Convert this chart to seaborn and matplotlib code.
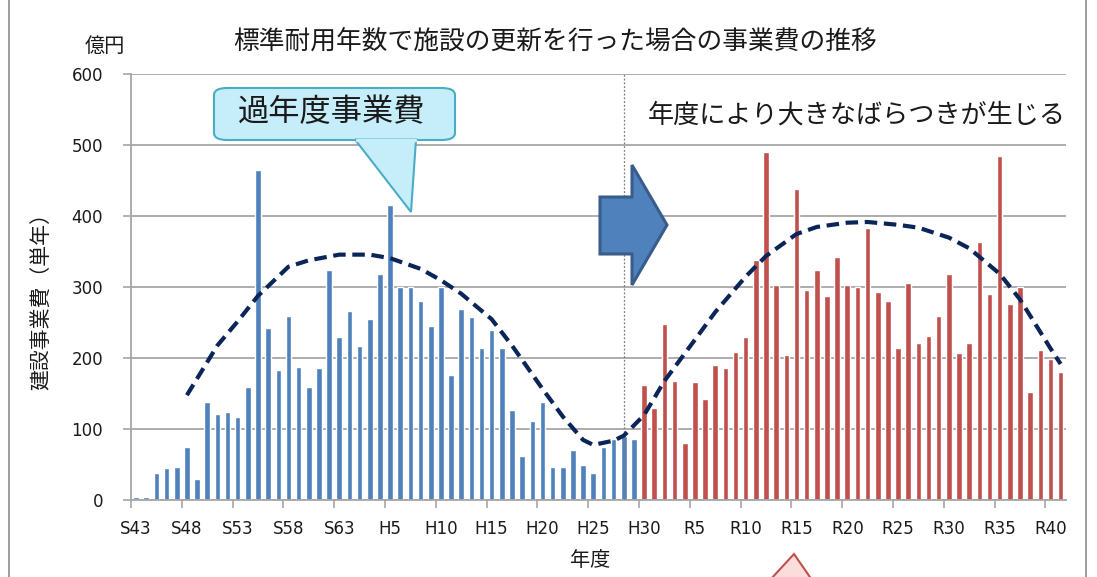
import numpy as np
import pandas as pd
import matplotlib
matplotlib.use("Agg")
import matplotlib.pyplot as plt
import seaborn as sns
from matplotlib.patches import FancyBboxPatch, Polygon
from matplotlib.lines import Line2D

# ---------------- data ----------------
years = ([f"S{y}" for y in range(43, 64)] + [f"H{y}" for y in range(1, 31)]
         + [f"R{y}" for y in range(1, 42)])
past_values = [4, 4, 39, 45, 47, 75, 30, 139, 121, 124, 117, 160, 465, 242, 183,
               260, 188, 160, 186, 324, 230, 267, 218, 255, 319, 416, 301, 301,
               281, 245, 301, 176, 270, 258, 214, 240, 214, 127, 62, 112, 138,
               47, 47, 71, 50, 39, 75, 87, 90, 86]
future_values = [163, 130, 248, 168, 81, 166, 142, 191, 186, 209, 230, 339, 491,
                 303, 204, 439, 296, 324, 288, 342, 303, 300, 383, 293, 281, 214,
                 306, 221, 232, 260, 319, 208, 221, 364, 291, 485, 276, 300, 152,
                 212, 199, 181]
trend_years = ["S48", "S51", "S53", "S55", "S58", "S60", "S63", "H3", "H5", "H8",
               "H10", "H12", "H15", "H17", "H20", "H22", "H24", "H25", "H27",
               "H28", "H30", "R2", "R5", "R7", "R10", "R12", "R15", "R17", "R20",
               "R22", "R25", "R27", "R30", "R32", "R35", "R37", "R40", "R41"]
trend_values = [148, 218, 252, 288, 329, 338, 346, 346, 341, 326, 310, 291, 255,
                218, 157, 118, 85, 78, 84, 91, 120, 168, 226, 265, 315, 344, 375,
                385, 391, 392, 388, 384, 370, 355, 319, 283, 214, 192]
tick_labels = ["S43", "S48", "S53", "S58", "S63", "H5", "H10", "H15", "H20", "H25",
               "H30", "R5", "R10", "R15", "R20", "R25", "R30", "R35", "R40"]

W, H = 1097, 577
sns.set_theme(style="white")
plt.rcParams['font.family'] = ['DejaVu Sans', 'Noto Sans CJK JP']
JP = ['Noto Sans CJK JP', 'DejaVu Sans']

fig = plt.figure(figsize=(W / 100, H / 100), dpi=100)
ax = fig.add_axes([131 / W, 1 - 500.3 / H, (1065.7 - 131) / W, (500.3 - 74.3) / H])

n_past = len(past_values)
df = pd.DataFrame({
    "year": years,
    "value": past_values + future_values,
    "kind": ["past"] * n_past + ["future"] * len(future_values),
})
sns.barplot(data=df, x="year", y="value", hue="kind", order=years, dodge=False,
            palette={"past": "#4f81bd", "future": "#c0504d"}, width=0.55,
            legend=False, ax=ax, saturation=1)

pos = {y: i for i, y in enumerate(years)}
tdf = pd.DataFrame({"x": [pos[t] for t in trend_years], "v": trend_values})
sns.lineplot(data=tdf, x="x", y="v", ax=ax, color="#0b2558", lw=3.0,
             linestyle=(0, (3.0, 1.6)), zorder=5)

ax.set_xlim(-0.5, len(years) - 0.5)
ax.set_ylim(0, 600)
ax.set_yticks(range(0, 601, 100))
ax.grid(axis="y", color="#a6a6a6", lw=1.3)
ax.set_axisbelow(True)
ax.set_xticks([pos[t] for t in tick_labels])
ax.set_xticklabels(tick_labels, fontsize=12, color="#1a1a1a")
ax.set_xticks(np.arange(-0.5, len(years), 5), minor=True)
ax.tick_params(axis="x", which="major", length=0, pad=14)
ax.tick_params(axis="x", which="minor", length=6, width=1.2, color="#a6a6a6",
               direction="out", bottom=True)
ax.tick_params(axis="y", length=6, width=1.2, color="#a6a6a6", direction="out",
               left=True, pad=14, labelsize=12, labelcolor="#1a1a1a")
for s in ["top", "right"]:
    ax.spines[s].set_visible(False)
for s in ["left", "bottom"]:
    ax.spines[s].set_color("#a6a6a6")
    ax.spines[s].set_linewidth(1.3)
ax.set_xlabel("")
ax.set_ylabel("")

# dotted divider
ax.axvline(pos["H28"], color="#7f7f7f", lw=0.9, linestyle=(0, (1.5, 1.5)), zorder=4)

def fx(px):
    return px / W

def fy(py):
    return 1 - py / H

# texts
fig.text(fx(555), fy(42), "標準耐用年数で施設の更新を行った場合の事業費の推移",
         family=JP, fontsize=18.5, ha="center", va="center", color="#1a1a1a")
fig.text(fx(105), fy(46), "億円", family=JP, fontsize=14.5, ha="center",
         va="center", color="#1a1a1a")
fig.text(fx(42), fy(296), "建設事業費（単年）", family=JP, fontsize=15,
         rotation=90, ha="center", va="center", color="#1a1a1a")
fig.text(fx(590), fy(561), "年度", family=JP, fontsize=14.5, ha="center",
         va="center", color="#1a1a1a")
fig.text(fx(857), fy(115), "年度により大きなばらつきが生じる", family=JP,
         fontsize=18.8, ha="center", va="center", color="#1a1a1a")

# callout
tr = fig.transFigure
box = FancyBboxPatch((fx(214), fy(140)), fx(455) - fx(214), fy(88) - fy(140),
                     boxstyle="round,pad=0,rounding_size=0.012",
                     transform=tr, facecolor="#c6eefa", edgecolor="#4bacc6",
                     lw=1.5, zorder=10)
fig.add_artist(box)
tail = Polygon([(fx(355), fy(139.5)), (fx(411), fy(212)), (fx(416), fy(139.5))],
               closed=True, transform=tr, facecolor="#c6eefa",
               edgecolor="#4bacc6", lw=1.5, zorder=11)
fig.add_artist(tail)
fig.add_artist(Line2D([fx(356.5), fx(414.5)], [fy(139.5), fy(139.5)],
                      transform=tr, color="#c6eefa", lw=2.5, zorder=12))
fig.text(fx(332), fy(112), "過年度事業費", family=JP, fontsize=22.5,
         ha="center", va="center", color="#1a1a1a", zorder=13)

# block arrow
arrow_pts = [(600, 197), (632, 197), (632, 165), (667, 225), (632, 285),
             (632, 254), (600, 254)]
fig.add_artist(Polygon([(fx(x), fy(y)) for x, y in arrow_pts], closed=True,
                       transform=tr, facecolor="#4f81bd", edgecolor="#385d8a",
                       lw=2.2, zorder=10))

# partial pink triangle at bottom
fig.add_artist(Polygon([(fx(770), fy(580)), (fx(794), fy(554)), (fx(812), fy(580))],
                       closed=True, transform=tr, facecolor="#fddcdc",
                       edgecolor="#c0504d", lw=1.5, zorder=10))

# frame lines
fig.add_artist(Line2D([fx(9), fx(9)], [0, 1], transform=tr, color="#8c8c8c", lw=1.2))
fig.add_artist(Line2D([fx(1086), fx(1086)], [0, 1], transform=tr, color="#8c8c8c", lw=1.2))

fig.savefig("out.png", dpi=100, facecolor="white")
